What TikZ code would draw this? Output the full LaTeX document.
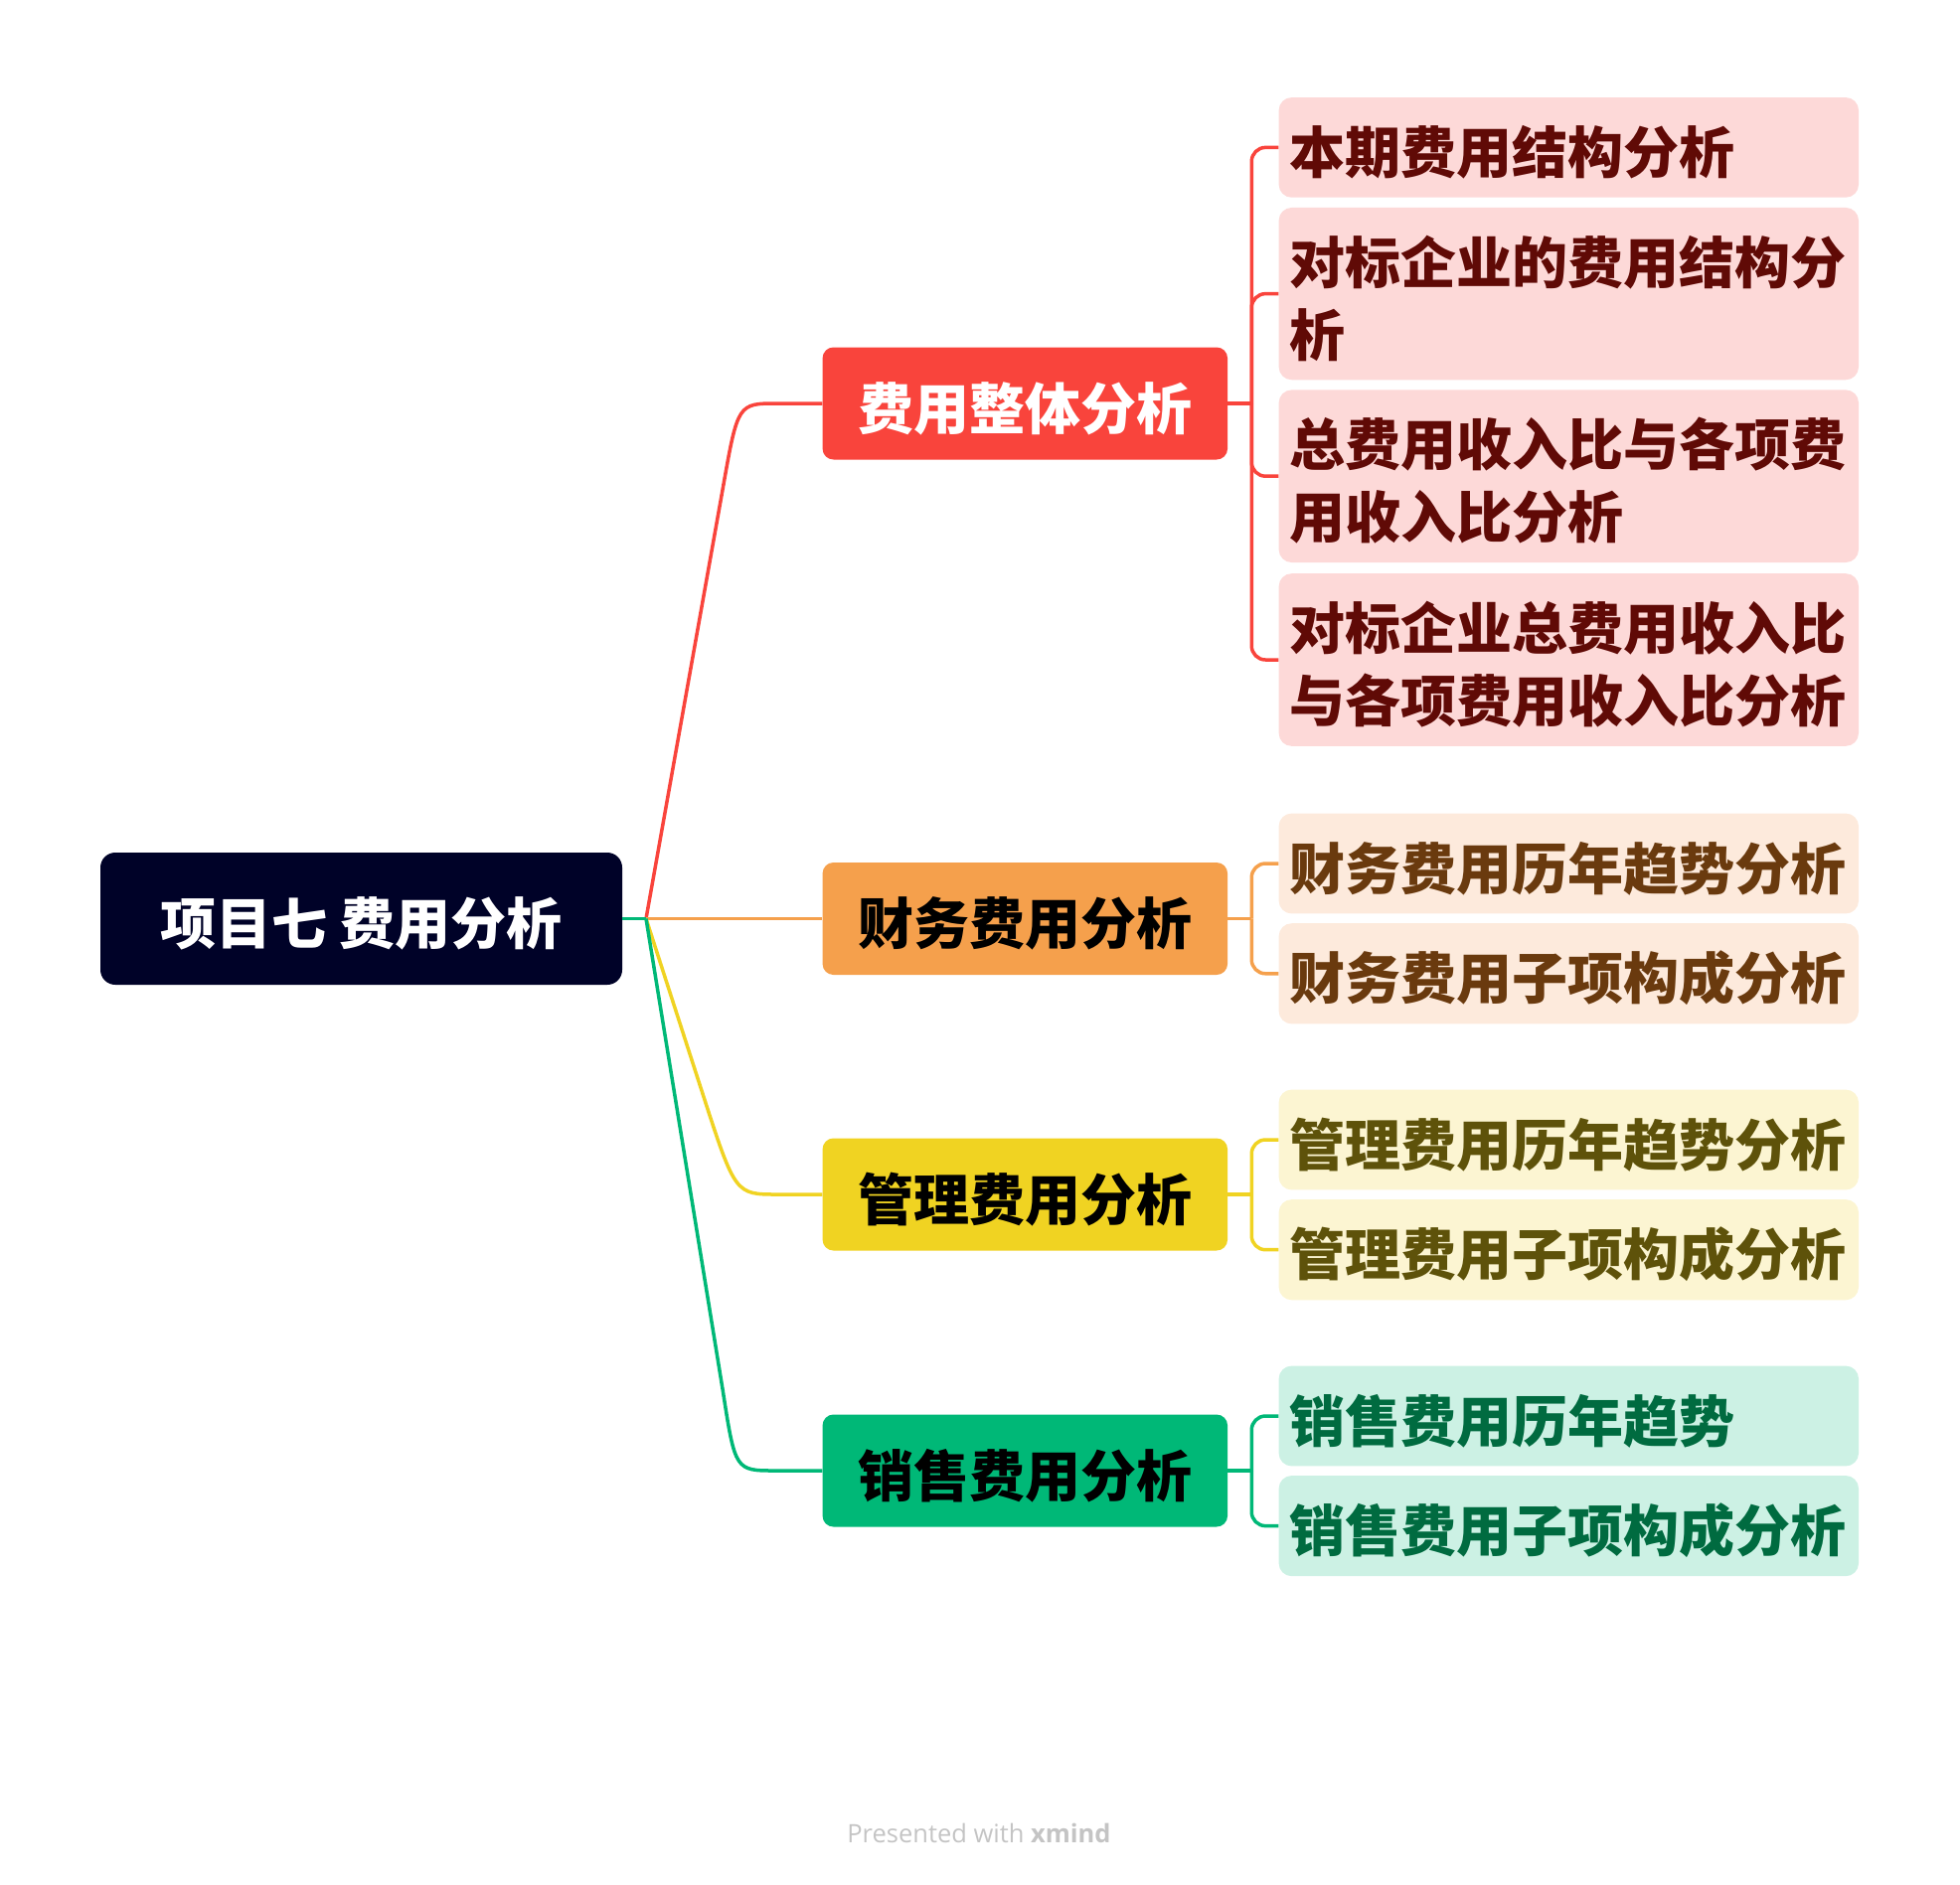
\documentclass[tikz,border=0pt]{standalone}
\usepackage{fontspec}
\setmainfont{Noto Sans CJK SC}
\newfontfamily\footfont{Open Sans}
\usetikzlibrary{positioning, calc}

\definecolor{rootbg}{HTML}{000228}
\definecolor{cred}{HTML}{F9443C}
\definecolor{corange}{HTML}{F5A04C}
\definecolor{cyellow}{HTML}{F0D322}
\definecolor{cgreen}{HTML}{00B877}
\definecolor{redsoft}{HTML}{FDD9D8}
\definecolor{orangesoft}{HTML}{FDEADC}
\definecolor{yellowsoft}{HTML}{FCF5D2}
\definecolor{greensoft}{HTML}{CCF1E4}
\definecolor{redtext}{HTML}{600A06}
\definecolor{orangetext}{HTML}{6A3A0E}
\definecolor{yellowtext}{HTML}{5E520A}
\definecolor{greentext}{HTML}{006B40}
\definecolor{footgray}{HTML}{C4C4C4}

\begin{document}
\begin{tikzpicture}[x=1pt, y=-1pt,
    bigfont/.style={font=\fontsize{56}{73}\selectfont\bfseries, execute at begin node={\rule{0pt}{58pt}}},
    rootbox/.style={bigfont, fill=rootbg, text=white, rounded corners=15pt, minimum width=525pt, minimum height=133pt, inner sep=0pt},
    topic/.style={bigfont, rounded corners=11pt, minimum width=407.5pt, minimum height=113pt, inner sep=0pt, align=center},
    subtopic/.style={bigfont, rounded corners=13pt, text width=561pt, inner xsep=11.2pt, inner ysep=18.5pt, minimum height=95.6pt, align=left},
    link/.style={line width=3.5pt},
    branch/.style={line width=3.5pt, rounded corners=14pt}
]
\useasboundingbox (0,0) rectangle (1972,1896);

% root
\node[rootbox] (root) at (363.5, 924.5) {项目七 费用分析};
\coordinate (jn) at (650, 924.5);

% main topics
\node[topic, fill=cred, text=white] (f1) at (1031.3, 406) {费用整体分析};
\node[topic, fill=corange, text=black] (f2) at (1031.3, 924.5) {财务费用分析};
\node[topic, fill=cyellow, text=black] (f3) at (1031.3, 1202) {管理费用分析};
\node[topic, fill=cgreen, text=black] (f4) at (1031.3, 1480) {销售费用分析};

% subtopics
\node[subtopic, fill=redsoft, text=redtext] (s1) at (1578.3, 148.4) {本期费用结构分析};
\node[subtopic, fill=redsoft, text=redtext] (s2) at (1578.3, 295.6) {对标企业的费用结构分\\析};
\node[subtopic, fill=redsoft, text=redtext] (s3) at (1578.3, 479.2) {总费用收入比与各项费\\用收入比分析};
\node[subtopic, fill=redsoft, text=redtext] (s4) at (1578.3, 664) {对标企业总费用收入比\\与各项费用收入比分析};
\node[subtopic, fill=orangesoft, text=orangetext] (s5) at (1578.3, 869) {财务费用历年趋势分析};
\node[subtopic, fill=orangesoft, text=orangetext] (s6) at (1578.3, 979.8) {财务费用子项构成分析};
\node[subtopic, fill=yellowsoft, text=yellowtext] (s7) at (1578.3, 1147) {管理费用历年趋势分析};
\node[subtopic, fill=yellowsoft, text=yellowtext] (s8) at (1578.3, 1257.7) {管理费用子项构成分析};
\node[subtopic, fill=greensoft, text=greentext] (s9) at (1578.3, 1425) {销售费用历年趋势};
\node[subtopic, fill=greensoft, text=greentext] (s10) at (1578.3, 1535.6) {销售费用子项构成分析};

% root -> topics
\draw[link, cred] (jn) -- ($(f1.west)+(-100,85)$) .. controls ($(f1.west)+(-85,0)$) .. ($(f1.west)+(-45,0)$) -- (f1.west);
\draw[link, corange] (jn) -- (f2.west);
\draw[link, cyellow] (jn) -- ($(f3.west)+(-120.6,-102)$) .. controls ($(f3.west)+(-87.6,0)$) .. ($(f3.west)+(-45,0)$) -- (f3.west);
\draw[link, cgreen] (jn) -- ($(f4.west)+(-100,-80)$) .. controls ($(f4.west)+(-87.6,0)$) .. ($(f4.west)+(-47,0)$) -- (f4.west);
\draw[link, cgreen] (root.east) -- (jn);

% topics -> subtopics
\coordinate (b1) at ($(f1.east)+(24,0)$);
\coordinate (b2) at ($(f2.east)+(24,0)$);
\coordinate (b3) at ($(f3.east)+(24,0)$);
\coordinate (b4) at ($(f4.east)+(24,0)$);
\draw[link, cred] (f1.east) -- (b1);
\draw[branch, cred] (b1) |- (s1.west);
\draw[branch, cred] (b1) |- (s2.west);
\draw[branch, cred] (b1) |- (s3.west);
\draw[branch, cred] (b1) |- (s4.west);
\draw[link, corange] (f2.east) -- (b2);
\draw[branch, corange] (b2) |- (s5.west);
\draw[branch, corange] (b2) |- (s6.west);
\draw[link, cyellow] (f3.east) -- (b3);
\draw[branch, cyellow] (b3) |- (s7.west);
\draw[branch, cyellow] (b3) |- (s8.west);
\draw[link, cgreen] (f4.east) -- (b4);
\draw[branch, cgreen] (b4) |- (s9.west);
\draw[branch, cgreen] (b4) |- (s10.west);

% footer
\node[text=footgray, font=\footfont\fontsize{25.5}{25.5}\selectfont] (foot) at (985, 1845) {Presented with \textbf{xmind}};
\end{tikzpicture}
\end{document}
